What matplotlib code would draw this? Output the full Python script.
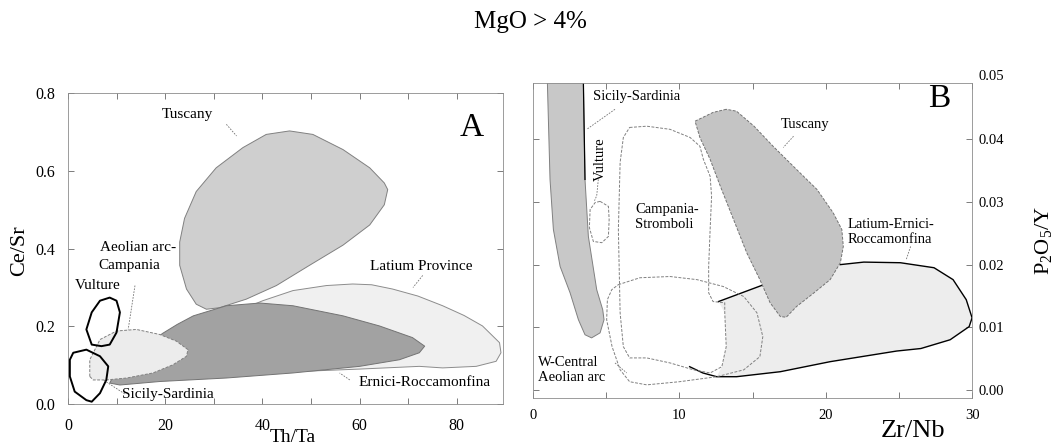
import numpy as np
import matplotlib.pyplot as plt
from matplotlib.patches import Polygon

plt.rcParams['font.family'] = ['Liberation Serif', 'DejaVu Serif']
plt.rcParams['mathtext.default'] = 'regular'

# ---- Panel A: Th/Ta vs Ce/Sr fields ----
tuscany_a_x = [45.6, 50.4, 56.6, 62.1, 65.1, 65.8, 65.1, 62.1, 56.6, 49.7, 42.9, 36.7, 31.2, 28.5, 26.4, 24.4, 23.0, 23.0, 24.0, 26.4, 30.5, 36.0, 40.8]
tuscany_a_y = [0.703, 0.694, 0.655, 0.608, 0.569, 0.552, 0.513, 0.461, 0.409, 0.357, 0.305, 0.270, 0.248, 0.244, 0.257, 0.296, 0.357, 0.417, 0.478, 0.547, 0.608, 0.660, 0.694]

latium_a_x = [35, 40.1, 46.3, 53.2, 58.6, 62.5, 66.8, 72, 77.1, 81.5, 85.3, 88.8, 89.1, 88.1, 84, 77.1, 72.3, 60, 50, 40, 35]
latium_a_y = [0.24, 0.266, 0.292, 0.305, 0.309, 0.307, 0.296, 0.278, 0.253, 0.228, 0.201, 0.158, 0.132, 0.110, 0.097, 0.093, 0.097, 0.09, 0.085, 0.09, 0.12]

ernici_x = [9.3, 15.0, 19.5, 22.5, 25.8, 32.6, 39.5, 46.3, 56.6, 64.1, 70.9, 73.4, 72.3, 68.2, 60.0, 46.3, 32.6, 18.9, 10.7, 8.6]
ernici_y = [0.071, 0.140, 0.182, 0.205, 0.227, 0.253, 0.260, 0.253, 0.227, 0.201, 0.171, 0.149, 0.132, 0.114, 0.097, 0.080, 0.067, 0.058, 0.049, 0.054]

aeolian_x = [4.5, 4.5, 6.6, 10.0, 14.1, 18.9, 22.3, 24.7, 24.4, 21.6, 17.5, 12.1, 7.9, 5.2]
aeolian_y = [0.071, 0.114, 0.166, 0.188, 0.192, 0.179, 0.162, 0.140, 0.123, 0.101, 0.080, 0.067, 0.062, 0.062]

vulture_a_x = [8.6, 10.0, 10.7, 10.0, 8.6, 6.9, 4.9, 3.8, 4.9, 6.6]
vulture_a_y = [0.274, 0.266, 0.236, 0.184, 0.153, 0.149, 0.153, 0.192, 0.236, 0.266]

sicily_a_x = [1.1, 3.8, 6.6, 8.3, 7.9, 6.6, 4.9, 3.8, 1.4, 0.4, 0.4]
sicily_a_y = [0.132, 0.140, 0.123, 0.097, 0.062, 0.028, 0.006, 0.010, 0.032, 0.071, 0.114]

# ---- Panel B: Zr/Nb vs P2O5/Y fields ----
sicily_b_x = [0.95, 0.98, 1.16, 1.39, 1.85, 2.53, 3.1, 3.55, 4.0, 4.58, 4.85, 4.76, 4.35, 3.78, 3.55, 3.44, 3.44]
sicily_b_y = [0.06, 0.049, 0.0336, 0.0256, 0.0197, 0.0155, 0.0112, 0.0088, 0.0083, 0.0091, 0.0112, 0.0128, 0.016, 0.0245, 0.0336, 0.049, 0.06]

vulture_b_x = [4.58, 5.15, 5.2, 5.15, 4.7, 4.12, 3.85, 3.9, 4.24]
vulture_b_y = [0.0301, 0.0293, 0.0272, 0.0245, 0.0235, 0.0237, 0.0259, 0.0288, 0.0299]

campania_x = [6.6, 7.77, 9.36, 10.73, 11.4, 11.64, 12.1, 12.2, 12.1, 12.0, 12.0, 12.3, 13.1, 13.1, 13.2, 12.9, 12.1, 10.96, 9.36, 7.77, 6.6, 6.17, 5.95, 5.83, 5.95, 6.17]
campania_y = [0.0419, 0.0421, 0.0416, 0.0403, 0.0389, 0.0368, 0.0341, 0.0309, 0.0256, 0.0197, 0.0155, 0.0141, 0.0139, 0.0123, 0.0069, 0.0037, 0.0027, 0.0032, 0.0043, 0.0051, 0.0051, 0.0069, 0.0123, 0.0256, 0.0363, 0.0403]

wcentral_x = [5.83, 7.3, 9.36, 11.2, 13.0, 14.4, 15.3, 15.7, 15.5, 14.4, 12.55, 10.0, 7.77, 6.6, 5.95, 5.4, 5.03, 5.08, 5.38]
wcentral_y = [0.0168, 0.0179, 0.0181, 0.0176, 0.0165, 0.0149, 0.0123, 0.0085, 0.0053, 0.0032, 0.0021, 0.0013, 0.0008, 0.0013, 0.0032, 0.0069, 0.0112, 0.0144, 0.016]

tuscany_b_x = [13.2, 12.3, 11.07, 11.4, 12.1, 12.8, 13.7, 14.6, 15.5, 16.2, 16.9, 17.3, 18.0, 19.2, 20.3, 21.0, 21.2, 21.1, 20.5, 19.4, 18.0, 16.4, 15.1, 13.9]
tuscany_b_y = [0.0448, 0.0443, 0.0429, 0.0403, 0.0368, 0.0325, 0.0272, 0.0219, 0.0176, 0.0139, 0.0117, 0.0116, 0.0133, 0.0155, 0.0176, 0.0203, 0.0229, 0.0256, 0.0283, 0.032, 0.0352, 0.0389, 0.0421, 0.0445]

latium_b_x = [12.67, 16.0, 18.5, 21.0, 22.6, 25.1, 27.4, 28.7, 29.6, 30.0, 29.8, 28.5, 26.5, 24.85, 20.3, 16.9, 13.9, 12.55, 12.9, 13.2, 13.1]
latium_b_y = [0.0141, 0.0170, 0.0185, 0.0200, 0.0204, 0.0203, 0.0195, 0.0176, 0.0144, 0.0115, 0.0101, 0.0080, 0.0066, 0.0062, 0.0045, 0.0029, 0.0021, 0.0021, 0.0037, 0.0069, 0.0123]
latium_b_tail_x = [12.55, 11.6, 10.7]
latium_b_tail_y = [0.0021, 0.0027, 0.0037]

DASH = (0, (3, 1.5))


def field(ax, xs, ys, fc='none', ec='0.45', lw=0.7, ls='-', z=1):
    p = Polygon(np.column_stack([xs, ys]), closed=True, facecolor=fc,
                edgecolor=ec, lw=lw, linestyle=ls, joinstyle='round', zorder=z)
    ax.add_patch(p)
    return p


def label(ax, x, y, s, leader=None, size=11, **kw):
    kw.setdefault('ha', 'center')
    ax.text(x, y, s, fontsize=size, va='center', zorder=10, **kw)
    if leader is not None:
        ax.plot(leader[0], leader[1], color='0.45', lw=0.6, ls=(0, (2, 1.5)), zorder=9)


fig = plt.figure(figsize=(10.61, 4.44), dpi=100)
fig.text(0.5, 0.95, 'MgO > 4%', fontsize=18, ha='center', va='center')

# Panel A
ax1 = fig.add_axes([0.064, 0.09, 0.41, 0.70])
field(ax1, latium_a_x, latium_a_y, fc='#f0f0f0', ec='0.55', z=1)
field(ax1, tuscany_a_x, tuscany_a_y, fc='#cfcfcf', ec='0.5', z=2)
field(ax1, ernici_x, ernici_y, fc='#a2a2a2', ec='0.45', z=3)
field(ax1, aeolian_x, aeolian_y, fc='#ececec', ec='0.5', ls=DASH, z=4)
field(ax1, vulture_a_x, vulture_a_y, ec='black', lw=1.4, z=5)
field(ax1, sicily_a_x, sicily_a_y, ec='black', lw=1.4, z=5)

label(ax1, 24.5, 0.745, 'Tuscany', ([32.6, 34.7], [0.72, 0.69]))
label(ax1, 14.4, 0.404, 'Aeolian arc-')
label(ax1, 12.7, 0.357, 'Campania', ([13.8, 12.4], [0.305, 0.192]))
label(ax1, 6.2, 0.305, 'Vulture')
label(ax1, 72.7, 0.355, 'Latium Province', ([73, 71], [0.331, 0.30]))
label(ax1, 73.4, 0.055, 'Ernici-Roccamonfina', ([58, 55.9], [0.062, 0.08]))
label(ax1, 20.6, 0.024, 'Sicily-Sardinia', ([11.7, 7.3], [0.026, 0.062]))
ax1.text(83, 0.71, 'A', fontsize=24, ha='center', va='center')

ax1.set_xlim(0, 89.5)
ax1.set_ylim(0, 0.8)
ax1.set_xticks([0, 20, 40, 60, 80])
ax1.set_xticks([10, 30, 50, 70], minor=True)
ax1.set_yticks([0.0, 0.2, 0.4, 0.6, 0.8])
ax1.set_yticklabels(['0.0', '0.2', '0.4', '0.6', '0.8'])
ax1.tick_params(which='both', direction='in', length=4, width=0.6, top=True, right=True,
                labelsize=11.5, colors='0.4', labelcolor='black')
ax1.tick_params(axis='x', pad=10)
ax1.tick_params(axis='y', pad=9)
ax1.set_xlabel('Th/Ta', fontsize=14, va='center')
ax1.xaxis.set_label_coords(0.518, -0.108)
ax1.set_ylabel('Ce/Sr', fontsize=16, va='center')
ax1.yaxis.set_label_coords(-0.112, 0.495)
for s in ax1.spines.values():
    s.set_color('0.55')
    s.set_linewidth(0.6)

# Panel B
ax2 = fig.add_axes([0.5024, 0.1036, 0.4138, 0.7095])
field(ax2, sicily_b_x, sicily_b_y, fc='#c8c8c8', ec='0.5', z=1)
ax2.plot(sicily_b_x[-3:], sicily_b_y[-3:], color='black', lw=0.9, zorder=2)
field(ax2, latium_b_x, latium_b_y, fc='#ededed', ec='none', z=1)
ax2.plot(latium_b_x[:2], latium_b_y[:2], color='black', lw=1.0, zorder=2)
ax2.plot(latium_b_x[3:18] + latium_b_tail_x[1:], latium_b_y[3:18] + latium_b_tail_y[1:],
         color='black', lw=1.0, zorder=2)
field(ax2, wcentral_x, wcentral_y, ec='0.5', ls=DASH, z=3)
field(ax2, campania_x, campania_y, ec='0.5', ls=DASH, z=3)
field(ax2, vulture_b_x, vulture_b_y, ec='0.5', ls=DASH, z=3)
field(ax2, tuscany_b_x, tuscany_b_y, fc='#c4c4c4', ec='0.45', ls=DASH, z=4)

label(ax2, 7.08, 0.0469, 'Sicily-Sardinia', ([5.6, 3.67], [0.0448, 0.0416]), size=10.5)
label(ax2, 4.62, 0.0368, 'Vulture', ([4.46, 4.35, 4.2], [0.0336, 0.031, 0.0302]), size=10.5, rotation=90)
label(ax2, 6.97, 0.0276, 'Campania-\nStromboli', size=10.5, ha='left', linespacing=1.25)
label(ax2, 18.6, 0.0424, 'Tuscany', ([17.8, 17.1], [0.0405, 0.0387]), size=10.5)
label(ax2, 21.5, 0.0252, 'Latium-Ernici-\nRoccamonfina', ([25.8, 25.5], [0.0229, 0.0208]), size=10.5, ha='left', linespacing=1.25)
label(ax2, 0.36, 0.0032, 'W-Central\nAeolian arc', ([5.6, 6.4], [0.0043, 0.0027]), size=10.5, ha='left', linespacing=1.25)
ax2.text(27.75, 0.0465, 'B', fontsize=24, ha='center', va='center')

ax2.set_xlim(0, 30)
ax2.set_ylim(-0.0013, 0.049)
ax2.set_xticks([0, 10, 20, 30])
ax2.set_xticks([5, 15, 25], minor=True)
ax2.set_yticks([0.0, 0.01, 0.02, 0.03, 0.04])
ax2.set_yticklabels(['0.00', '0.01', '0.02', '0.03', '0.04'])
ax2.yaxis.tick_right()
ax2.yaxis.set_label_position('right')
ax2.tick_params(which='both', direction='in', length=4, width=0.6, top=True, left=True, right=True,
                labelsize=10.5, colors='0.4', labelcolor='black')
ax2.tick_params(axis='x', pad=8)
ax2.tick_params(axis='y', pad=4.5)
ax2.text(1.014, 1.019, '0.05', transform=ax2.transAxes, fontsize=10.5, ha='left', va='center')
ax2.set_xlabel('Zr/Nb', fontsize=19, va='center')
ax2.xaxis.set_label_coords(0.866, -0.105)
ax2.set_ylabel('P$_2$O$_5$/Y', fontsize=16, rotation=90, va='center')
ax2.yaxis.set_label_coords(1.162, 0.5)
for s in ax2.spines.values():
    s.set_color('0.55')
    s.set_linewidth(0.6)

fig.savefig('out.png', dpi=100)
